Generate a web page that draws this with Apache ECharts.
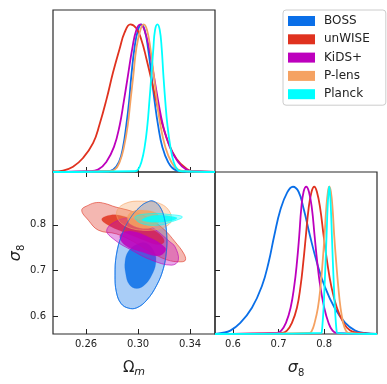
<!DOCTYPE html>
<html>
<head>
<meta charset="utf-8">
<script src="https://cdn.jsdelivr.net/npm/echarts@6/dist/echarts.min.js"></script>
<style>
html, body { margin: 0; padding: 0; background: #fff; }
#chart { width: 387px; height: 384px; }
</style>
</head>
<body>
<div id="chart"></div>
<script>
var names = ['BOSS', 'unWISE', 'KiDS+', 'P-lens', 'Planck']
var colors = ['#0a6fe8', '#e0321f', '#bd00bd', '#f5a262', '#00ffff']

var omRange = [0.2346, 0.3592]
var s8Range = [0.5605, 0.916]
var omTicks = [0.26, 0.30, 0.34]
var s8Ticks = [0.6, 0.7, 0.8]

// 1D posteriors of Omega_m, [Om, density / peak]
var omBOSS = [[0.2346, 0], [0.2756, 0.005], [0.2808, 0.016], [0.2854, 0.068], [0.2885, 0.170], [0.2910, 0.317], [0.2931, 0.475], [0.2949, 0.656], [0.2974, 0.848], [0.3000, 0.962], [0.3026, 1.0], [0.3051, 0.962], [0.3077, 0.837], [0.3103, 0.656], [0.3128, 0.475], [0.3154, 0.317], [0.3187, 0.170], [0.3231, 0.068], [0.3282, 0.016], [0.3346, 0.005], [0.3592, 0]]
var omUnWISE = [[0.2346, 0.004], [0.2423, 0.010], [0.2500, 0.036], [0.2577, 0.095], [0.2654, 0.195], [0.2705, 0.325], [0.2757, 0.490], [0.2808, 0.675], [0.2859, 0.837], [0.2897, 0.945], [0.2941, 1.0], [0.2987, 0.973], [0.3026, 0.894], [0.3064, 0.769], [0.3115, 0.577], [0.3167, 0.385], [0.3231, 0.204], [0.3295, 0.090], [0.3372, 0.023], [0.3423, 0.005], [0.3592, 0]]
var omKiDS = [[0.2346, 0], [0.2628, 0.005], [0.2692, 0.016], [0.2756, 0.068], [0.2815, 0.170], [0.2859, 0.317], [0.2890, 0.475], [0.2923, 0.656], [0.2956, 0.837], [0.2987, 0.962], [0.3018, 1.0], [0.3049, 0.962], [0.3085, 0.837], [0.3121, 0.656], [0.3156, 0.475], [0.3192, 0.317], [0.3244, 0.170], [0.3308, 0.068], [0.3372, 0.016], [0.3436, 0.005], [0.3592, 0]]
var omPlens = [[0.2346, 0], [0.2769, 0.005], [0.2821, 0.016], [0.2859, 0.068], [0.2892, 0.170], [0.2921, 0.317], [0.2941, 0.475], [0.2964, 0.656], [0.2987, 0.837], [0.3018, 0.962], [0.3044, 1.0], [0.3069, 0.962], [0.3095, 0.837], [0.3121, 0.656], [0.3146, 0.475], [0.3172, 0.317], [0.3210, 0.170], [0.3256, 0.068], [0.3308, 0.016], [0.3372, 0.005], [0.3592, 0]]
var omPlanck = [[0.2346, 0], [0.2974, 0.005], [0.3000, 0.016], [0.3026, 0.068], [0.3051, 0.170], [0.3072, 0.317], [0.3087, 0.475], [0.3103, 0.656], [0.3118, 0.837], [0.3131, 0.962], [0.3149, 1.0], [0.3167, 0.962], [0.3182, 0.837], [0.3195, 0.656], [0.3210, 0.475], [0.3226, 0.317], [0.3249, 0.170], [0.3274, 0.068], [0.3303, 0.016], [0.3333, 0.005], [0.3592, 0]]

// 1D posteriors of sigma_8
var s8BOSS = [[0.5605, 0], [0.5758, 0.007], [0.5941, 0.023], [0.6160, 0.075], [0.6416, 0.178], [0.6635, 0.326], [0.6781, 0.486], [0.6906, 0.669], [0.7037, 0.840], [0.7190, 0.962], [0.7315, 1.0], [0.7439, 0.966], [0.7549, 0.852], [0.7688, 0.669], [0.7841, 0.486], [0.8009, 0.326], [0.8229, 0.178], [0.8463, 0.075], [0.8682, 0.023], [0.8901, 0.007], [0.916, 0]]
var s8UnWISE = [[0.5605, 0], [0.7074, 0.007], [0.7184, 0.023], [0.7293, 0.075], [0.7403, 0.178], [0.7483, 0.326], [0.7542, 0.486], [0.7600, 0.669], [0.7659, 0.852], [0.7724, 0.966], [0.7783, 1.0], [0.7841, 0.966], [0.7914, 0.852], [0.7988, 0.669], [0.8068, 0.486], [0.8156, 0.326], [0.8280, 0.178], [0.8426, 0.075], [0.8572, 0.023], [0.8755, 0.007], [0.916, 0]]
var s8KiDS = [[0.5605, 0], [0.6964, 0.007], [0.7059, 0.023], [0.7162, 0.075], [0.7264, 0.178], [0.7344, 0.326], [0.7403, 0.486], [0.7454, 0.669], [0.7498, 0.852], [0.7549, 0.966], [0.7607, 1.0], [0.7666, 0.966], [0.7732, 0.852], [0.7790, 0.669], [0.7849, 0.486], [0.7914, 0.326], [0.8002, 0.178], [0.8097, 0.075], [0.8185, 0.023], [0.8280, 0.007], [0.916, 0]]
var s8Plens = [[0.5605, 0], [0.7680, 0.007], [0.7732, 0.023], [0.7790, 0.075], [0.7863, 0.178], [0.7922, 0.326], [0.7966, 0.486], [0.8009, 0.669], [0.8046, 0.852], [0.8083, 0.966], [0.8112, 1.0], [0.8148, 0.966], [0.8185, 0.852], [0.8221, 0.669], [0.8265, 0.486], [0.8309, 0.326], [0.8360, 0.178], [0.8419, 0.075], [0.8477, 0.023], [0.8536, 0.007], [0.916, 0]]
var s8Planck = [[0.5605, 0], [0.7936, 0.007], [0.7951, 0.023], [0.7966, 0.075], [0.7988, 0.178], [0.8009, 0.326], [0.8031, 0.486], [0.8053, 0.669], [0.8075, 0.852], [0.8097, 0.966], [0.8112, 1.0], [0.8127, 0.966], [0.8148, 0.852], [0.8170, 0.669], [0.8192, 0.486], [0.8214, 0.326], [0.8236, 0.178], [0.8258, 0.075], [0.8273, 0.023], [0.8287, 0.007], [0.916, 0]]

// 2D contours, outlines as [Om, s8]; outer = 95%, inner = 68%
var bossOuter = [[0.3118, 0.8519], [0.3169, 0.8395], [0.3203, 0.8139], [0.3221, 0.7773], [0.3218, 0.7408], [0.3195, 0.7042], [0.3144, 0.6677], [0.3067, 0.6348], [0.2990, 0.6180], [0.2926, 0.6173], [0.2869, 0.6275], [0.2833, 0.6531], [0.2823, 0.6896], [0.2833, 0.7335], [0.2874, 0.7773], [0.2938, 0.8139], [0.3015, 0.8395], [0.3074, 0.8504]]
var bossInner = [[0.3060, 0.7600], [0.3126, 0.7400], [0.3136, 0.7152], [0.3105, 0.6896], [0.3054, 0.6692], [0.2990, 0.6604], [0.2933, 0.6692], [0.2905, 0.6933], [0.2900, 0.7189], [0.2926, 0.7420], [0.2990, 0.7570]]
var unwiseOuter = [[0.2567, 0.8322], [0.2618, 0.8431], [0.2682, 0.8490], [0.2746, 0.8468], [0.2823, 0.8395], [0.2950, 0.8300], [0.3080, 0.8150], [0.3200, 0.7900], [0.3285, 0.7627], [0.3350, 0.7380], [0.3365, 0.7230], [0.3330, 0.7189], [0.3221, 0.7233], [0.3092, 0.7415], [0.2964, 0.7634], [0.2836, 0.7800], [0.2695, 0.7883], [0.2618, 0.8102]]
var unwiseInner = [[0.2721, 0.8124], [0.2785, 0.8212], [0.2870, 0.8200], [0.2980, 0.8100], [0.3080, 0.7960], [0.3180, 0.7760], [0.3200, 0.7620], [0.3150, 0.7570], [0.3030, 0.7680], [0.2900, 0.7830], [0.2772, 0.7993]]
var kidsOuter = [[0.2759, 0.7883], [0.2849, 0.8102], [0.2951, 0.8139], [0.3060, 0.8030], [0.3156, 0.7846], [0.3240, 0.7640], [0.3285, 0.7518], [0.3310, 0.7225], [0.3259, 0.7116], [0.3105, 0.7225], [0.2951, 0.7444], [0.2823, 0.7664]]
var kidsInner = [[0.2862, 0.7773], [0.2951, 0.7861], [0.3105, 0.7700], [0.3190, 0.7550], [0.3213, 0.7444], [0.3156, 0.7320], [0.3028, 0.7408], [0.2900, 0.7554]]
var plensOuter = [[0.2836, 0.8285], [0.2900, 0.8468], [0.3028, 0.8519], [0.3195, 0.8431], [0.3259, 0.8139], [0.3208, 0.7956], [0.3028, 0.7883], [0.2874, 0.8029]]
var plensInner = [[0.2925, 0.8220], [0.2960, 0.8300], [0.3050, 0.8320], [0.3140, 0.8260], [0.3165, 0.8120], [0.3130, 0.7970], [0.3040, 0.7920], [0.2950, 0.8000], [0.2920, 0.8120]]
var planckOuter = [[0.2977, 0.8175], [0.3105, 0.8249], [0.3230, 0.8230], [0.3341, 0.8175], [0.3250, 0.8060], [0.3156, 0.7993], [0.3028, 0.8029]]
var planckInner = [[0.3030, 0.8110], [0.3080, 0.8180], [0.3160, 0.8210], [0.3250, 0.8190], [0.3300, 0.8150], [0.3260, 0.8090], [0.3160, 0.8060], [0.3070, 0.8070]]

var omCurves = [omBOSS, omUnWISE, omKiDS, omPlens, omPlanck]
var s8Curves = [s8BOSS, s8UnWISE, s8KiDS, s8Plens, s8Planck]
var contours = [[bossOuter, bossInner], [unwiseOuter, unwiseInner], [kidsOuter, kidsInner], [plensOuter, plensInner], [planckOuter, planckInner]]

var font = 'DejaVu Sans'
var ink = '#222'

function tickAxis(grid, range, ticks, opts) {
  var ax = {
    type: 'value',
    gridIndex: grid,
    min: range[0],
    max: range[1],
    axisLine: { show: false },
    splitLine: { show: false },
    axisTick: { show: true, inside: true, length: 5, customValues: ticks, lineStyle: { color: ink, width: 1 } },
    axisLabel: { show: false, customValues: ticks }
  }
  return Object.assign(ax, opts || {})
}

function labelStyle(ticks, digits, margin) {
  return {
    show: true, customValues: ticks, margin: margin, fontSize: 10, fontFamily: font, color: ink,
    formatter: function (v) { return v.toFixed(digits) }
  }
}

var nameRich = {
  a: { fontSize: 15, lineHeight: 20, verticalAlign: 'middle', fontFamily: font, color: ink },
  ai: { fontSize: 16, lineHeight: 20, verticalAlign: 'middle', fontStyle: 'italic', fontFamily: font, color: ink },
  b: { fontSize: 10, lineHeight: 10, verticalAlign: 'bottom', fontFamily: font, color: ink },
  bi: { fontSize: 11, lineHeight: 10, verticalAlign: 'bottom', fontStyle: 'italic', fontFamily: font, color: ink }
}

var xOm1 = tickAxis(1, omRange, omTicks, {
  name: '{a|Ω}{bi|m}', nameLocation: 'middle', nameGap: 24, nameTextStyle: { rich: nameRich },
  axisLabel: labelStyle(omTicks, 2, 5)
})
var xS8 = tickAxis(2, s8Range, s8Ticks, {
  name: '{ai|σ}{b|8}', nameLocation: 'middle', nameGap: 24, nameTextStyle: { rich: nameRich },
  axisLabel: labelStyle(s8Ticks, 1, 5)
})
var yS8 = tickAxis(1, s8Range, s8Ticks, {
  name: '{ai|σ}{b|8}', nameLocation: 'middle', nameGap: 27, nameRotate: 90, nameTextStyle: { rich: nameRich },
  axisLabel: labelStyle(s8Ticks, 1, 7)
})

var xAxes = [
  tickAxis(0, omRange, omTicks),
  xOm1,
  xS8,
  tickAxis(1, omRange, omTicks, { position: 'top' })
]

var yAxes = [
  { type: 'value', gridIndex: 0, min: 0, max: 1.097, show: false },
  yS8,
  { type: 'value', gridIndex: 2, min: 0, max: 1.1, show: false, position: 'right' },
  tickAxis(2, s8Range, s8Ticks, { position: 'left' })
]

var gridBox = { show: true, borderColor: '#2a2a2a', borderWidth: 1.2, backgroundColor: 'transparent', outerBoundsMode: 'none' }
var grids = [
  Object.assign({ left: 53, top: 10, width: 162, height: 162 }, gridBox),
  Object.assign({ left: 53, top: 172, width: 162, height: 162 }, gridBox),
  Object.assign({ left: 215, top: 172, width: 162, height: 162 }, gridBox)
]

var series = []

function polygon(api, pts, style) {
  return {
    type: 'polygon',
    shape: { points: pts.map(function (p) { return api.coord(p) }), smooth: 0.4 },
    style: style
  }
}

contours.forEach(function (pair, i) {
  series.push({
    type: 'custom',
    name: names[i],
    xAxisIndex: 1,
    yAxisIndex: 1,
    z: 2,
    data: [[0.3, 0.75, 0], [0.3, 0.75, 1]],
    itemStyle: { color: colors[i] },
    renderItem: function (params, api) {
      var ring = api.value(2)
      return polygon(api, pair[ring], ring === 0
        ? { fill: colors[i], fillOpacity: 0.35, stroke: colors[i], strokeOpacity: 0.6, lineWidth: 1 }
        : { fill: colors[i], fillOpacity: 0.85, stroke: colors[i], strokeOpacity: 0.25, lineWidth: 0.8 })
    }
  })
})

// the BOSS 95% edge shows through the later contours
series.push({
  type: 'custom',
  name: names[0],
  xAxisIndex: 1,
  yAxisIndex: 1,
  z: 3,
  data: [[0.3, 0.75]],
  itemStyle: { color: colors[0] },
  renderItem: function (params, api) {
    return polygon(api, bossOuter, { fill: 'none', stroke: colors[0], strokeOpacity: 0.7, lineWidth: 1 })
  }
})

function curve(i, data, xi, yi) {
  return {
    type: 'line',
    name: names[i],
    xAxisIndex: xi,
    yAxisIndex: yi,
    data: data,
    smooth: 0.45,
    showSymbol: false,
    clip: true,
    z: 3,
    itemStyle: { color: colors[i] },
    lineStyle: { color: colors[i], width: 1.8 }
  }
}

omCurves.forEach(function (d, i) { series.push(curve(i, d, 0, 0)) })
s8Curves.forEach(function (d, i) { series.push(curve(i, d, 2, 2)) })

var chart = echarts.init(document.getElementById('chart'), null, { renderer: 'canvas' })
chart.setOption({
  animation: false,
  backgroundColor: '#fff',
  grid: grids,
  xAxis: xAxes,
  yAxis: yAxes,
  legend: {
    orient: 'vertical',
    left: 283,
    top: 10,
    icon: 'rect',
    itemWidth: 27,
    itemHeight: 10,
    itemGap: 6.3,
    padding: [5, 16, 5, 5],
    borderColor: '#cccccc',
    borderWidth: 1,
    borderRadius: 3,
    backgroundColor: '#fff',
    textStyle: { fontSize: 12, fontFamily: font, color: ink, padding: [0, 0, 0, 4] },
    data: names.map(function (n, i) { return { name: n, itemStyle: { color: colors[i] } } })
  },
  series: series
})
</script>
</body>
</html>
